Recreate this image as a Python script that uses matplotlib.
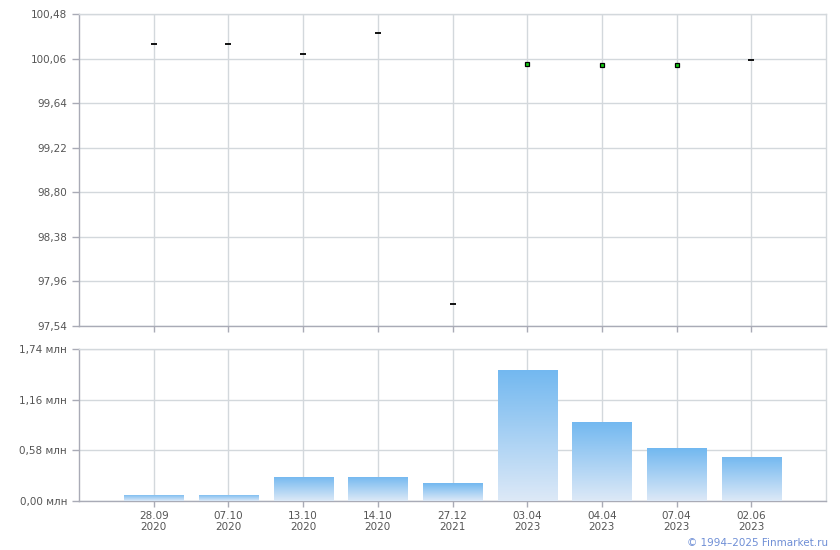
import matplotlib
matplotlib.use("Agg")
import matplotlib.pyplot as plt
import numpy as np
from matplotlib.colors import LinearSegmentedColormap

dates = ["28.09\n2020", "07.10\n2020", "13.10\n2020", "14.10\n2020", "27.12\n2021",
         "03.04\n2023", "04.04\n2023", "07.04\n2023", "02.06\n2023"]
prices = [100.20, 100.20, 100.10, 100.30, 97.75, 100.01, 100.00, 100.00, 100.05]
green_flags = [False, False, False, False, False, True, True, True, False]
volumes = [0.07, 0.07, 0.275, 0.275, 0.205, 1.50, 0.905, 0.605, 0.505]  # млн

price_ticks = [97.54, 97.96, 98.38, 98.80, 99.22, 99.64, 100.06, 100.48]
vol_ticks = [0.00, 0.58, 1.16, 1.74]

grid_c = "#d3d8dc"
axis_c = "#a9abb6"
label_c = "#555555"

fig = plt.figure(figsize=(8.4, 5.5), dpi=100)
ax1 = fig.add_axes([79/840, 224/550, 747/840, 312/550])
ax2 = fig.add_axes([79/840, 49/550, 747/840, 152/550])

x = np.arange(len(dates))

def fmt(v):
    return f"{v:.2f}".replace(".", ",")

for ax in (ax1, ax2):
    ax.set_xlim(-1, 9)
    ax.set_xticks(x)
    ax.grid(True, color=grid_c, linewidth=1)
    ax.set_axisbelow(True)
    for s in ("top", "right"):
        ax.spines[s].set_color(grid_c)
        ax.spines[s].set_linewidth(1)
    for s in ("left", "bottom"):
        ax.spines[s].set_color(axis_c)
        ax.spines[s].set_linewidth(1)
    ax.tick_params(axis="both", colors=axis_c, labelcolor=label_c, labelsize=7.5,
                   length=5, width=1)

# Top panel: prices
ax1.set_ylim(price_ticks[0], price_ticks[-1])
ax1.set_yticks(price_ticks)
ax1.set_yticklabels([fmt(v) for v in price_ticks])
ax1.set_xticklabels([])
ax1.tick_params(axis="x", length=4)
for xi, p, g in zip(x, prices, green_flags):
    if g:
        ax1.plot(xi, p, marker="s", markersize=3.5, markerfacecolor="#11cc11",
                 markeredgecolor="black", markeredgewidth=0.9, linestyle="none", zorder=5)
    else:
        ax1.plot(xi, p, marker="_", markersize=5, color="black",
                 markeredgewidth=1.3, linestyle="none", zorder=5)

# Bottom panel: volumes with gradient bars
ax2.set_ylim(vol_ticks[0], vol_ticks[-1])
ax2.set_yticks(vol_ticks)
ax2.set_yticklabels([fmt(v) + " млн" for v in vol_ticks])
ax2.set_xticklabels(dates, linespacing=1.1)
ax2.tick_params(axis="x", length=4, pad=3)
cmap = LinearSegmentedColormap.from_list("g", ["#dde9f7", "#72b8f0"])
grad = np.linspace(0, 1, 256).reshape(-1, 1)
bw = 0.79
bars = ax2.bar(x, volumes, width=bw, color="none", edgecolor="none", zorder=3)
for b in bars:
    x0, y0 = b.get_x(), b.get_y()
    w, h = b.get_width(), b.get_height()
    im = ax2.imshow(grad, extent=(x0, x0 + w, y0, y0 + h), origin="lower",
                    cmap=cmap, aspect="auto", zorder=3, interpolation="bilinear")
    im.set_clip_path(b)
ax2.set_xlim(-1, 9)
ax2.set_ylim(vol_ticks[0], vol_ticks[-1])

fig.text(828/840, 1 - 543/550, "© 1994–2025 Finmarket.ru", ha="right", va="center",
         fontsize=7.5, color="#6f8fd6")

fig.savefig("out.png", dpi=100)
